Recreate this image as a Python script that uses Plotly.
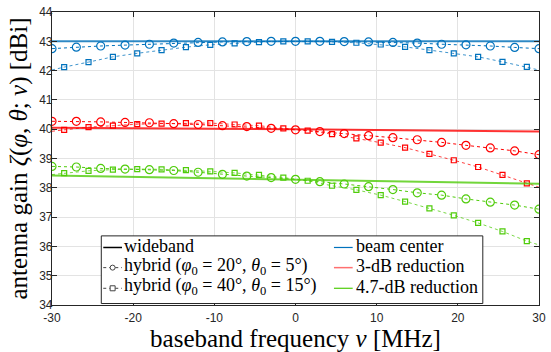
import plotly.graph_objects as go

# ---------------- data ----------------
freq_circ = [-30, -27, -24, -21, -18, -15, -12, -9, -6, -3, 0, 3, 6, 9, 12, 15, 18, 21, 24, 27, 30]
freq_sq = [-28.5, -25.5, -22.5, -19.5, -16.5, -13.5, -10.5, -7.5, -4.5, -1.5,
           1.5, 4.5, 7.5, 10.5, 13.5, 16.5, 19.5, 22.5, 25.5, 28.5]
freq_edges = [-30, 30]
freq_wide = [-30, 0, 30]

# wideband (solid)
wide_center = [43.0, 43.0, 43.0]
wide_3db = [40.05, 40.0, 39.92]
wide_47db = [38.42, 38.28, 38.14]

# hybrid (phi0=20, theta0=5) -> circles
h20_center = [42.75, 42.80, 42.84, 42.87, 42.90, 42.94, 42.96, 42.98, 42.99, 43.0, 43.0,
              43.0, 42.99, 42.98, 42.96, 42.94, 42.90, 42.88, 42.84, 42.79, 42.75]
h20_3db = [40.27, 40.27, 40.25, 40.23, 40.22, 40.19, 40.16, 40.12, 40.09, 40.03, 39.98,
           39.92, 39.85, 39.78, 39.71, 39.64, 39.55, 39.45, 39.36, 39.26, 39.13]
h20_47db = [38.73, 38.71, 38.66, 38.64, 38.62, 38.59, 38.53, 38.46, 38.40, 38.35, 38.29,
            38.21, 38.13, 38.04, 37.94, 37.83, 37.75, 37.62, 37.51, 37.41, 37.27]

# hybrid (phi0=40, theta0=15) -> squares (+ curve end values at +-30 MHz)
h40_center = [42.12, 42.29, 42.47, 42.59, 42.70, 42.80, 42.88, 42.93, 42.97, 43.0,
              43.0, 42.98, 42.95, 42.89, 42.81, 42.70, 42.59, 42.47, 42.30, 42.13]
h40_center_ends = [42.02, 42.02]
h40_3db = [39.98, 40.07, 40.12, 40.17, 40.19, 40.21, 40.21, 40.16, 40.12, 40.03,
           39.95, 39.83, 39.69, 39.54, 39.37, 39.16, 38.94, 38.71, 38.44, 38.15]
h40_3db_ends = [39.93, 38.02]
h40_47db = [38.50, 38.58, 38.62, 38.64, 38.63, 38.60, 38.56, 38.51, 38.44, 38.35,
            38.24, 38.07, 37.93, 37.75, 37.53, 37.30, 37.06, 36.80, 36.51, 36.18]
h40_47db_ends = [38.45, 36.05]

x_ticks = [-30, -20, -10, 0, 10, 20, 30]
x_ticktext = ["-30", "-20", "-10", "0", "10", "20", "30"]
y_ticks = [34, 35, 36, 37, 38, 39, 40, 41, 42, 43, 44]

legend_left = ["wideband",
               "hybrid (<i>φ</i><sub>0</sub> = 20°, <i>θ</i><sub>0</sub> = 5°)",
               "hybrid (<i>φ</i><sub>0</sub> = 40°, <i>θ</i><sub>0</sub> = 15°)"]
legend_right = ["beam center", "3-dB reduction", "4.7-dB reduction"]

# ---------------- style ----------------
BLUE = "#0072BD"
RED = "#FF0000"
GREEN = "#4FCC0A"
SERIF = "Liberation Serif"

W, H = 551, 352
ML, MR, MT, MB = 52, 5, 8, 46
PW, PH = W - ML - MR, H - MT - MB


def px_x(p):
    return (p - ML) / PW


def px_y(p):
    return (H - MB - p) / PH


fig = go.Figure()

groups = [
    (BLUE, wide_center, h20_center, h40_center, h40_center_ends),
    (RED, wide_3db, h20_3db, h40_3db, h40_3db_ends),
    (GREEN, wide_47db, h20_47db, h40_47db, h40_47db_ends),
]

for col, wide, h20, h40, ends in groups:
    fig.add_trace(go.Scatter(x=freq_wide, y=wide, mode="lines",
                             line=dict(color=col, width=2), opacity=0.8,
                             showlegend=False, hoverinfo="skip"))
    xs = [freq_edges[0]] + freq_sq + [freq_edges[1]]
    ys = [ends[0]] + h40 + [ends[1]]
    fig.add_trace(go.Scatter(x=xs, y=ys, mode="lines",
                             line=dict(color=col, width=1, dash="dot"), opacity=0.75,
                             showlegend=False, hoverinfo="skip"))
    fig.add_trace(go.Scatter(x=freq_sq, y=h40, mode="markers",
                             marker=dict(symbol="square-open", size=5, color=col,
                                         line=dict(width=1.2, color=col)),
                             showlegend=False, hoverinfo="skip"))
    fig.add_trace(go.Scatter(x=freq_circ, y=h20, mode="lines+markers",
                             line=dict(color=col, width=1, dash="dot"),
                             marker=dict(symbol="circle-open", size=8, color=col,
                                         line=dict(width=1.2, color=col)),
                             showlegend=False, hoverinfo="skip"))

# ---------------- legend (box, symbols, labels) ----------------
fig.add_shape(type="rect", xref="paper", yref="paper",
              x0=px_x(102), x1=px_x(489), y0=px_y(304.5), y1=px_y(235.7),
              fillcolor="white", line=dict(color="#262626", width=1), layer="above")

rows_px = [247.5, 268, 289]
left_sym = (104, 123)
right_sym = (338, 357)
left_txt, right_txt = 124, 359

left_styles = [dict(color="black", width=1.5, dash="solid"),
               dict(color="#444444", width=1, dash="dot"),
               dict(color="#444444", width=1, dash="dot")]
left_marks = [None, "circle", "rect"]
right_styles = [dict(color=BLUE, width=1.2, dash="solid"),
                dict(color="#FF7070", width=1.5, dash="solid"),
                dict(color=GREEN, width=1.2, dash="solid")]

for i, ry in enumerate(rows_px):
    fig.add_shape(type="line", xref="paper", yref="paper",
                  x0=px_x(left_sym[0]), x1=px_x(left_sym[1]), y0=px_y(ry), y1=px_y(ry),
                  line=left_styles[i], layer="above")
    if left_marks[i]:
        cx = px_x((left_sym[0] + left_sym[1]) / 2)
        fig.add_shape(type=left_marks[i], xref="paper", yref="paper",
                      xsizemode="pixel", ysizemode="pixel", xanchor=cx, yanchor=px_y(ry),
                      x0=-2.5, x1=2.5, y0=-2.5, y1=2.5, fillcolor="white",
                      line=dict(color="#444444", width=1), layer="above")
    fig.add_shape(type="line", xref="paper", yref="paper",
                  x0=px_x(right_sym[0]), x1=px_x(right_sym[1]), y0=px_y(ry), y1=px_y(ry),
                  line=right_styles[i], layer="above")
    fig.add_annotation(x=px_x(left_txt), y=px_y(ry - 1.5), xref="paper", yref="paper",
                       text=legend_left[i], showarrow=False, xanchor="left", yanchor="middle",
                       font=dict(family=SERIF, size=18, color="black"), borderpad=0)
    fig.add_annotation(x=px_x(right_txt), y=px_y(ry - 1.5), xref="paper", yref="paper",
                       text=legend_right[i], showarrow=False, xanchor="left", yanchor="middle",
                       font=dict(family=SERIF, size=18, color="black"), borderpad=0)

axis_common = dict(showline=True, linecolor="#262626", linewidth=1.2, mirror="ticks",
                   ticks="inside", ticklen=5, tickcolor="#262626", tickwidth=1,
                   showgrid=True, gridcolor="#E3E3E3", gridwidth=1, zeroline=False,
                   ticklabeloverflow="allow",
                   tickfont=dict(family="Liberation Sans", size=12, color="#262626"))

fig.update_layout(
    width=W, height=H,
    margin=dict(l=ML, r=MR, t=MT, b=MB),
    paper_bgcolor="white", plot_bgcolor="white",
    showlegend=False,
    xaxis=dict(range=[-30, 30], tickvals=x_ticks, ticktext=x_ticktext, ticklabelstandoff=1,
               title=dict(text="baseband frequency <i>ν</i> [MHz]",
                          font=dict(family=SERIF, size=25, color="black"), standoff=5),
               **axis_common),
    yaxis=dict(range=[34, 44], tickvals=y_ticks, ticklabelstandoff=-4,
               title=dict(text="antenna gain <i>ζ</i>(<i>φ</i>, <i>θ</i>; <i>ν</i>) [dBi]",
                          font=dict(family=SERIF, size=25, color="black"), standoff=4),
               **axis_common),
)

fig.write_html("out.html")
